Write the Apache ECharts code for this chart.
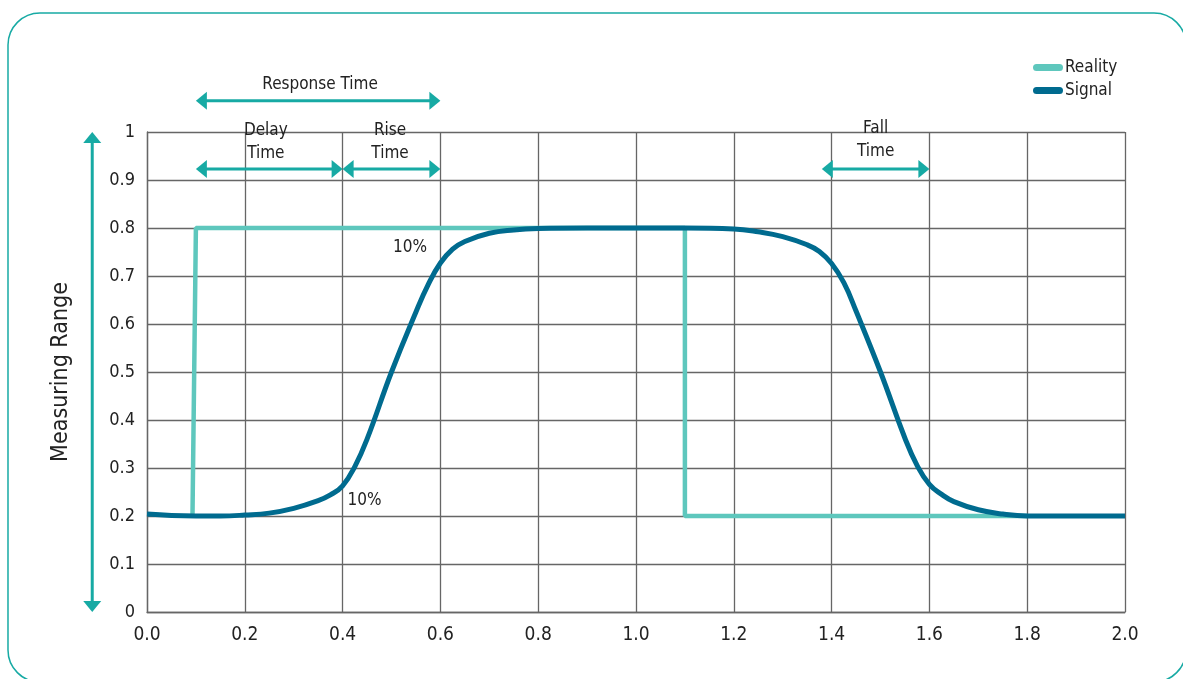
<!DOCTYPE html>
<html>
<head>
<meta charset="utf-8">
<script src="https://cdn.jsdelivr.net/npm/echarts/dist/echarts.min.js"></script>
<style>
  html, body { margin: 0; padding: 0; background: #ffffff; }
  #chart { width: 1183px; height: 679px; }
</style>
</head>
<body>
<div id="chart"></div>
<script>
// Reality: ideal step of the measured quantity
const realityX = [0.093, 0.1, 1.1, 1.1, 1.8];
const realityY = [0.2, 0.8, 0.8, 0.2, 0.2];

// Signal: sensor output
const signalX = [0, 0.05, 0.1, 0.15, 0.2, 0.25, 0.3, 0.35, 0.375, 0.4, 0.425, 0.45, 0.5, 0.55, 0.575, 0.6, 0.625, 0.65, 0.7, 0.75, 0.8, 0.9, 1.0, 1.1, 1.2, 1.25, 1.3, 1.35, 1.375, 1.4, 1.425, 1.45, 1.5, 1.55, 1.575, 1.6, 1.625, 1.65, 1.7, 1.75, 1.8, 1.9, 2.0];
const signalY = [0.204, 0.201, 0.2, 0.2, 0.202, 0.206, 0.216, 0.232, 0.244, 0.263, 0.303, 0.36, 0.5, 0.625, 0.682, 0.727, 0.756, 0.772, 0.789, 0.796, 0.799, 0.8, 0.8, 0.8, 0.798, 0.792, 0.782, 0.765, 0.751, 0.726, 0.686, 0.627, 0.5, 0.362, 0.305, 0.266, 0.245, 0.23, 0.213, 0.204, 0.2, 0.2, 0.2];

// time spans shown with double arrows (data units)
const spanFrom = [0.1, 0.1, 0.4, 1.38];
const spanTo = [0.6, 0.4, 0.6, 1.6];
const spanY = [1.065, 0.923, 0.923, 0.923];

// annotation texts (data units)
const noteText = ["Response Time", "Delay\nTime", "Rise\nTime", "Fall\nTime", "10%", "10%"];
const noteX = [0.354, 0.243, 0.497, 1.49, 0.538, 0.445];
const noteY = [1.098, 0.98, 0.98, 0.983, 0.76, 0.233];

// vertical range arrow
const rangeX = -0.112;
const rangeY = [0, 1];

const FONT = "'Liberation Sans Narrow', 'DejaVu Sans Condensed', sans-serif";
const TEAL = "#17aaa4";

const chart = echarts.init(document.getElementById("chart"));

const toPairs = (xs, ys) => xs.map((x, i) => [x, ys[i]]);

const option = {
  backgroundColor: "#ffffff",
  animation: false,
  grid: { left: 147, right: 58, top: 132, bottom: 67 },
  legend: {
    orient: "vertical",
    left: 1028,
    top: 54,
    itemWidth: 30,
    itemHeight: 7,
    itemGap: 6,
    icon: "path://M3.5,0 H26.5 A3.5,3.5 0 0 1 26.5,7 H3.5 A3.5,3.5 0 0 1 3.5,0 Z",
    textStyle: { fontFamily: FONT, fontSize: 17, color: "#222", padding: [0, 0, 0, -3] },
    data: ["Reality", "Signal"],
  },
  xAxis: {
    type: "value",
    min: 0,
    max: 2,
    interval: 0.2,
    axisLine: { show: true, lineStyle: { color: "#666", width: 1.3 } },
    axisTick: { show: false },
    splitLine: { show: true, lineStyle: { color: "#666", width: 1.3 } },
    axisLabel: {
      fontFamily: FONT,
      fontSize: 19,
      color: "#222",
      margin: 14,
      formatter: (v) => v.toFixed(1),
    },
  },
  yAxis: {
    type: "value",
    min: 0,
    max: 1,
    interval: 0.1,
    name: "Measuring Range",
    nameLocation: "middle",
    nameGap: 74,
    nameTextStyle: { fontFamily: FONT, fontSize: 23, color: "#222" },
    axisLine: { show: true, lineStyle: { color: "#666", width: 1.3 } },
    axisTick: { show: false },
    splitLine: { show: true, lineStyle: { color: "#666", width: 1.3 } },
    axisLabel: {
      fontFamily: FONT,
      fontSize: 18,
      color: "#222",
      margin: 12,
      formatter: (v) => (v === 0 || v === 1 ? String(v) : v.toFixed(1)),
    },
  },
  series: [
    {
      name: "Reality",
      type: "line",
      data: toPairs(realityX, realityY),
      showSymbol: false,
      lineStyle: { color: "#5ec7bd", width: 4.5 },
      itemStyle: { color: "#5ec7bd" },
      z: 2,
    },
    {
      name: "Signal",
      type: "line",
      data: toPairs(signalX, signalY),
      showSymbol: false,
      smooth: 0.45,
      lineStyle: { color: "#006b8f", width: 5 },
      itemStyle: { color: "#006b8f" },
      z: 3,
    },
  ],
};

chart.setOption(option);

// annotations placed through the chart's own coordinate conversion
const px = (x, y) => chart.convertToPixel({ gridIndex: 0 }, [x, y]);
const HEAD_L = 11, HEAD_W = 9, SHAFT = 3;
const graphics = [];

// page frame
graphics.push({
  type: "rect",
  shape: { x: 8, y: 13, width: 1178, height: 669, r: 32 },
  style: { fill: "none", stroke: TEAL, lineWidth: 1.5 },
  silent: true,
  z: 0,
});

spanFrom.forEach((from, i) => {
  const a = px(from, spanY[i]);
  const b = px(spanTo[i], spanY[i]);
  const y = a[1];
  graphics.push({
    type: "line",
    shape: { x1: a[0] + HEAD_L - 1, y1: y, x2: b[0] - HEAD_L + 1, y2: y },
    style: { stroke: TEAL, lineWidth: SHAFT },
    z: 10,
  });
  graphics.push({
    type: "polygon",
    shape: { points: [[a[0], y], [a[0] + HEAD_L, y - HEAD_W], [a[0] + HEAD_L, y + HEAD_W]] },
    style: { fill: TEAL },
    z: 10,
  });
  graphics.push({
    type: "polygon",
    shape: { points: [[b[0], y], [b[0] - HEAD_L, y - HEAD_W], [b[0] - HEAD_L, y + HEAD_W]] },
    style: { fill: TEAL },
    z: 10,
  });
});

{
  const top = px(rangeX, rangeY[1]);
  const bot = px(rangeX, rangeY[0]);
  const x = top[0];
  graphics.push({
    type: "line",
    shape: { x1: x, y1: top[1] + HEAD_L - 1, x2: x, y2: bot[1] - HEAD_L + 1 },
    style: { stroke: TEAL, lineWidth: SHAFT },
    z: 10,
  });
  graphics.push({
    type: "polygon",
    shape: { points: [[x, top[1]], [x - HEAD_W, top[1] + HEAD_L], [x + HEAD_W, top[1] + HEAD_L]] },
    style: { fill: TEAL },
    z: 10,
  });
  graphics.push({
    type: "polygon",
    shape: { points: [[x, bot[1]], [x - HEAD_W, bot[1] - HEAD_L], [x + HEAD_W, bot[1] - HEAD_L]] },
    style: { fill: TEAL },
    z: 10,
  });
}

noteText.forEach((t, i) => {
  const p = px(noteX[i], noteY[i]);
  graphics.push({
    type: "text",
    x: p[0],
    y: p[1],
    style: {
      text: t,
      fill: "#222",
      font: "17px " + FONT,
      align: "center",
      verticalAlign: "middle",
      lineHeight: 23,
    },
    z: 11,
  });
});

chart.setOption({ graphic: graphics });
</script>
</body>
</html>
